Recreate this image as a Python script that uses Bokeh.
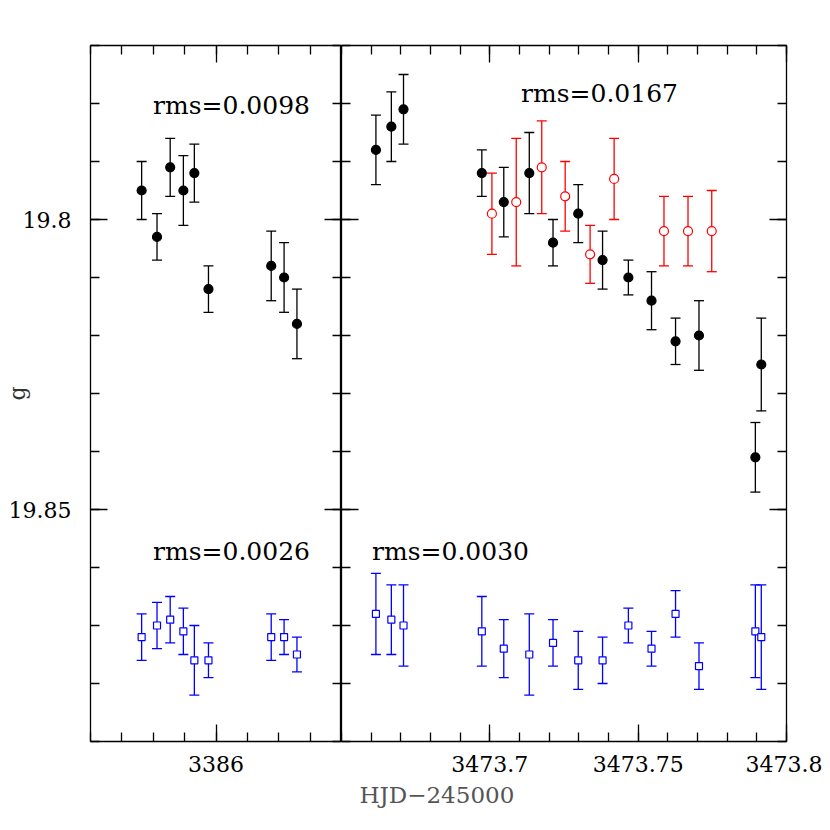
from bokeh.plotting import figure
from bokeh.layouts import row
from bokeh.models import (Range1d, LinearAxis, FixedTicker, PrintfTickFormatter,
                          Label, ColumnDataSource, Title)
from bokeh.embed import file_html
from bokeh.resources import INLINE

# ---------------- data ----------------
left_t = [3385.9763, 3385.9812, 3385.9854, 3385.9896, 3385.9931, 3385.9976,
          3386.0176, 3386.0217, 3386.0258]
left_g = [19.795, 19.803, 19.791, 19.795, 19.792, 19.812, 19.808, 19.810, 19.818]
left_g_err = [0.005, 0.004, 0.005, 0.006, 0.005, 0.004, 0.006, 0.006, 0.006]
left_cmp = [19.872, 19.870, 19.869, 19.871, 19.876, 19.876, 19.872, 19.872, 19.875]
left_cmp_err = [0.004, 0.004, 0.004, 0.004, 0.006, 0.003, 0.004, 0.003, 0.003]

right_t = [3473.6616, 3473.6668, 3473.6709, 3473.6973, 3473.7047, 3473.7133,
           3473.7213, 3473.7298, 3473.7380, 3473.7467, 3473.7545, 3473.7626,
           3473.7705, 3473.7895, 3473.7915]
right_g = [19.788, 19.784, 19.781, 19.792, 19.797, 19.792, 19.804, 19.799,
           19.807, 19.810, 19.814, 19.821, 19.820, 19.841, 19.825]
right_g_err = [0.006, 0.006, 0.006, 0.004, 0.006, 0.007, 0.004, 0.005,
               0.005, 0.003, 0.005, 0.004, 0.006, 0.006, 0.008]
right_cmp = [19.868, 19.869, 19.870, 19.871, 19.874, 19.875, 19.873, 19.876,
             19.876, 19.870, 19.874, 19.868, 19.877, 19.871, 19.872]
right_cmp_err = [0.007, 0.006, 0.007, 0.006, 0.005, 0.007, 0.004, 0.005,
                 0.004, 0.003, 0.003, 0.004, 0.004, 0.008, 0.009]

red_t = [3473.7007, 3473.7089, 3473.7175, 3473.7254, 3473.7338, 3473.7419,
         3473.7587, 3473.7668, 3473.7748]
red_g = [19.799, 19.797, 19.791, 19.796, 19.806, 19.793, 19.802, 19.802, 19.802]
red_g_err = [0.007, 0.011, 0.008, 0.006, 0.005, 0.007, 0.006, 0.006, 0.007]

rms_left_top = "rms=0.0098"
rms_left_bot = "rms=0.0026"
rms_right_top = "rms=0.0167"
rms_right_bot = "rms=0.0030"
x_title = "HJD\u2212245000"
y_title = "g"

y_major = [19.8, 19.85]
y_minor = [19.77, 19.78, 19.79, 19.80, 19.81, 19.82, 19.83, 19.84, 19.85,
           19.86, 19.87, 19.88, 19.89]
xl_major = [3386.0]
xl_minor = [3385.96, 3385.97, 3385.98, 3385.99, 3386.0, 3386.01, 3386.02,
            3386.03, 3386.04]
xr_major = [3473.7, 3473.75, 3473.8]
xr_minor = [3473.65, 3473.66, 3473.67, 3473.68, 3473.69, 3473.70, 3473.71,
            3473.72, 3473.73, 3473.74, 3473.75, 3473.76, 3473.77, 3473.78,
            3473.79, 3473.80]

FONT = "DejaVu Serif"
LW = 1.3

y_range = Range1d(19.89, 19.77)


def make_axis(major, minor, labels, standoff=14):
    ax = LinearAxis(ticker=FixedTicker(ticks=major, minor_ticks=minor),
                    formatter=PrintfTickFormatter(format="%g"))
    ax.axis_line_color = None
    ax.major_tick_in = 17
    ax.major_tick_out = 0
    ax.minor_tick_in = 9
    ax.minor_tick_out = 0
    ax.major_tick_line_color = "black"
    ax.minor_tick_line_color = "black"
    ax.major_tick_line_width = LW
    ax.minor_tick_line_width = LW
    ax.major_label_text_font = FONT
    ax.major_label_text_color = "black"
    ax.major_label_text_font_size = "22px"
    if labels:
        ax.major_label_standoff = standoff
    else:
        ax.major_label_text_color = None
        ax.major_label_text_font_size = "0px"
        ax.major_label_standoff = 0
    return ax


def make_fig(width, x_range, bl, br):
    p = figure(width=width, height=822, x_range=x_range, y_range=y_range,
               output_backend="svg", toolbar_location=None,
               x_axis_location=None, y_axis_location=None,
               min_border_left=bl, min_border_right=br,
               min_border_top=45, min_border_bottom=81)
    p.xgrid.visible = False
    p.ygrid.visible = False
    p.outline_line_color = "black"
    p.outline_line_width = LW
    p.background_fill_color = "white"
    p.border_fill_color = "white"
    return p


def errbars(p, t, y, e, color, marker, fill, size):
    lo = [a - b for a, b in zip(y, e)]
    hi = [a + b for a, b in zip(y, e)]
    src = ColumnDataSource(dict(t=t, y=y, lo=lo, hi=hi))
    p.segment(x0="t", y0="lo", x1="t", y1="hi", source=src,
              line_color=color, line_width=LW)
    p.scatter(x="t", y="lo", source=src, marker="dash", size=10,
              line_color=color, line_width=LW)
    p.scatter(x="t", y="hi", source=src, marker="dash", size=10,
              line_color=color, line_width=LW)
    p.scatter(x="t", y="y", source=src, marker=marker, size=size,
              line_color=color, fill_color=fill, line_width=1.2)


def rms_label(p, text, x, y):
    p.add_layout(Label(x=x, y=y, x_units="screen", y_units="screen", text=text,
                       text_font=FONT, text_font_size="25px",
                       text_color="black", text_align="center",
                       text_baseline="alphabetic"))


# ---------------- left panel ----------------
pl = make_fig(341, Range1d(3385.96, 3386.04), 90, 0)
pl.add_layout(make_axis(xl_major, xl_minor, True), "below")
pl.add_layout(make_axis(xl_major, xl_minor, False), "above")
yl = make_axis(y_major, y_minor, True, standoff=19)
yl.axis_label = y_title
yl.axis_label_text_font = FONT
yl.axis_label_text_font_size = "22px"
yl.axis_label_text_font_style = "normal"
yl.axis_label_text_color = "#333333"
yl.axis_label_text_line_height = 0.6
yl.axis_label_standoff = -24
pl.add_layout(yl, "left")
pl.add_layout(make_axis(y_major, y_minor, False), "right")

errbars(pl, left_t, left_g, left_g_err, "black", "circle", "black", 9)
errbars(pl, left_t, left_cmp, left_cmp_err, "blue", "square", "white", 7)

rms_label(pl, rms_left_top, 141, 636)
rms_label(pl, rms_left_bot, 141, 190)

# ---------------- right panel ----------------
pr = make_fig(481, Range1d(3473.65, 3473.8), 0, 36)
pr.add_layout(make_axis(xr_major, xr_minor, True), "below")
pr.add_layout(make_axis(xr_major, xr_minor, False), "above")
pr.add_layout(make_axis(y_major, y_minor, False), "left")
pr.add_layout(make_axis(y_major, y_minor, False), "right")

errbars(pr, right_t, right_g, right_g_err, "black", "circle", "black", 9)
errbars(pr, red_t, red_g, red_g_err, "red", "circle", "white", 9)
errbars(pr, right_t, right_cmp, right_cmp_err, "blue", "square", "white", 7)

rms_label(pr, rms_right_top, 258, 648)
rms_label(pr, rms_right_bot, 109, 190)

pr.add_layout(Title(text=x_title, align="left", offset=18, text_font=FONT,
                    text_font_size="23px", text_font_style="normal",
                    text_color="#555555", standoff=10), "below")

layout = row(pl, pr, spacing=0)
open("out.html", "w").write(file_html(layout, INLINE))
